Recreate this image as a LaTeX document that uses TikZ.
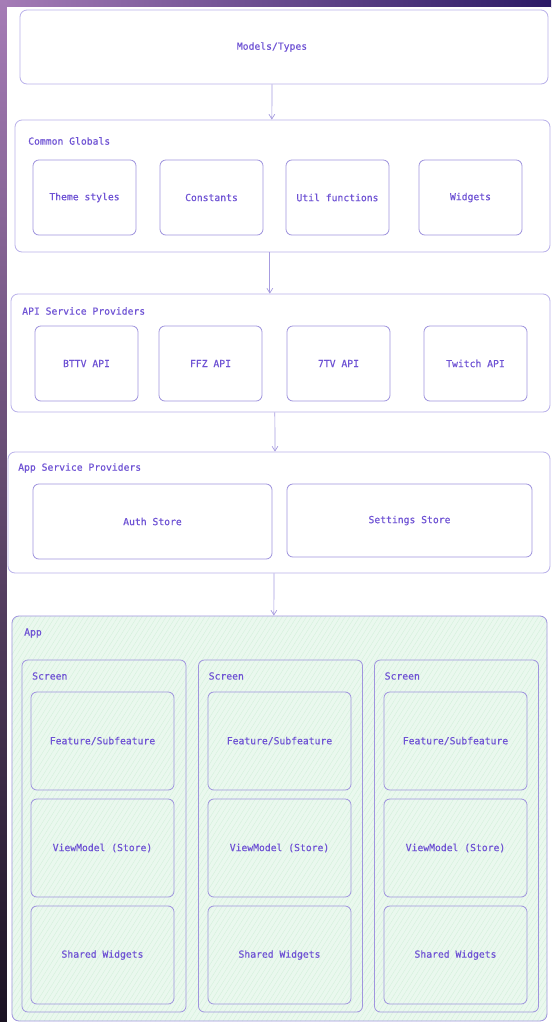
\documentclass[tikz,border=0pt]{standalone}
\usepackage{fontspec}
\newfontfamily\diagfont{DejaVu Sans Mono}[FakeBold=0.35]
\usetikzlibrary{arrows.meta,patterns.meta}

\definecolor{ink}{HTML}{6E52D4}
\definecolor{edge}{HTML}{BAB2EA}
\definecolor{edgedark}{HTML}{A095DE}
\definecolor{arrowc}{HTML}{A79CE0}
\definecolor{mint}{HTML}{EAF8EE}
\definecolor{mintline}{HTML}{D2F0DA}
\definecolor{bgA}{HTML}{A57CB6}
\definecolor{bgB}{HTML}{2C1A66}
\definecolor{bgC}{HTML}{1A1222}

\begin{document}
\begin{tikzpicture}[x=0.03cm, y=-0.03cm,
    font=\diagfont\fontsize{8.3}{10}\selectfont, text=ink,
    group/.style={draw=edge, line width=0.7pt, rounded corners=6pt},
    item/.style={draw=edgedark, line width=0.7pt, rounded corners=5pt},
    tag/.style={anchor=west, inner sep=0pt},
    flow/.style={draw=arrowc, line width=0.6pt, -{Straight Barb[length=4pt,width=5pt]}}]
                \useasboundingbox (0,0) rectangle (551,1022);
                % backdrop
                \shade[left color=bgA, right color=bgB] (0,0) rectangle (551,7);
                \shade[top color=bgA, bottom color=bgC] (0,0) rectangle (7,1022);
                \fill[white] (7,7) rectangle (551,1022);

                % models
                \node[group, minimum width=15.84cm, minimum height=2.22cm] (types) at (284,47) {};
                \node (typeslbl) at (272,47) {Models/Types};

                % common globals
                \node[group, minimum width=16.05cm, minimum height=3.96cm] (common) at (282.5,186) {};
                \node[tag] (commonlbl) at (28,141) {Common Globals};
                \node[item, minimum width=3.09cm, minimum height=2.25cm] (theme) at (84.5,197.5) {Theme styles};
                \node[item, minimum width=3.09cm, minimum height=2.25cm] (consts) at (211.5,197.5) {Constants};
                \node[item, minimum width=3.09cm, minimum height=2.25cm] (utils) at (337.5,197.5) {Util functions};
                \node[item, minimum width=3.09cm, minimum height=2.25cm] (widgets) at (470.5,197.5) {Widgets};

                % api providers
                \node[group, minimum width=16.17cm, minimum height=3.54cm] (api) at (280.5,353) {};
                \node[tag] (apilbl) at (22,311) {API Service Providers};
                \node[item, minimum width=3.09cm, minimum height=2.25cm] (bttv) at (86.5,363.5) {BTTV API};
                \node[item, minimum width=3.09cm, minimum height=2.25cm] (ffz) at (210.5,363.5) {FFZ API};
                \node[item, minimum width=3.09cm, minimum height=2.25cm] (seventv) at (338.5,363.5) {7TV API};
                \node[item, minimum width=3.09cm, minimum height=2.25cm] (twitch) at (475.5,363.5) {Twitch API};

                % app providers
                \node[group, minimum width=16.26cm, minimum height=3.63cm] (appsvc) at (279,512.5) {};
                \node[tag] (appsvclbl) at (18,468) {App Service Providers};
                \node[item, minimum width=7.17cm, minimum height=2.25cm] (auth) at (152.5,521.5) {Auth Store};
                \node[item, minimum width=7.35cm, minimum height=2.19cm] (settings) at (409.5,520.5) {Settings Store};

                % app
                \node[group, draw=edgedark, preaction={fill=mint},
                      preaction={pattern={Lines[angle=58,distance=3.5pt,line width=0.3pt]}, pattern color=mintline},
                      minimum width=16.05cm, minimum height=12.15cm] (app) at (279.5,818.5) {};
                \node[tag] (applbl) at (24,633) {App};
                \foreach \sx/\bx [count=\i] in {104/102.5, 280.5/279.5, 456.5/455.5} {
                    \node[item, minimum width=4.92cm, minimum height=10.56cm] (screen\i) at (\sx,836) {};
                    \node[tag] (screenlbl\i) at (\sx-72,676) {Screen};
                    \node[item, minimum width=4.29cm, minimum height=2.94cm] (feature\i) at (\bx,741) {Feature/Subfeature};
                    \node[item, minimum width=4.29cm, minimum height=2.94cm] (viewmodel\i) at (\bx,848) {ViewModel (Store)};
                    \node[item, minimum width=4.29cm, minimum height=2.94cm] (shared\i) at (\bx,955) {Shared Widgets};
                }

                % flow between layers
                \draw[flow] ([xshift=-0.36cm]types.south) -- ([xshift=-0.32cm]common.north);
                \draw[flow] ([xshift=-0.38cm]common.south) -- ([xshift=-0.32cm]api.north);
                \draw[flow] ([xshift=-0.17cm]api.south) -- ([xshift=-0.12cm]appsvc.north);
                \draw[flow] ([xshift=-0.15cm]appsvc.south) -- ([xshift=-0.17cm]app.north);
            \end{tikzpicture}
\end{document}
